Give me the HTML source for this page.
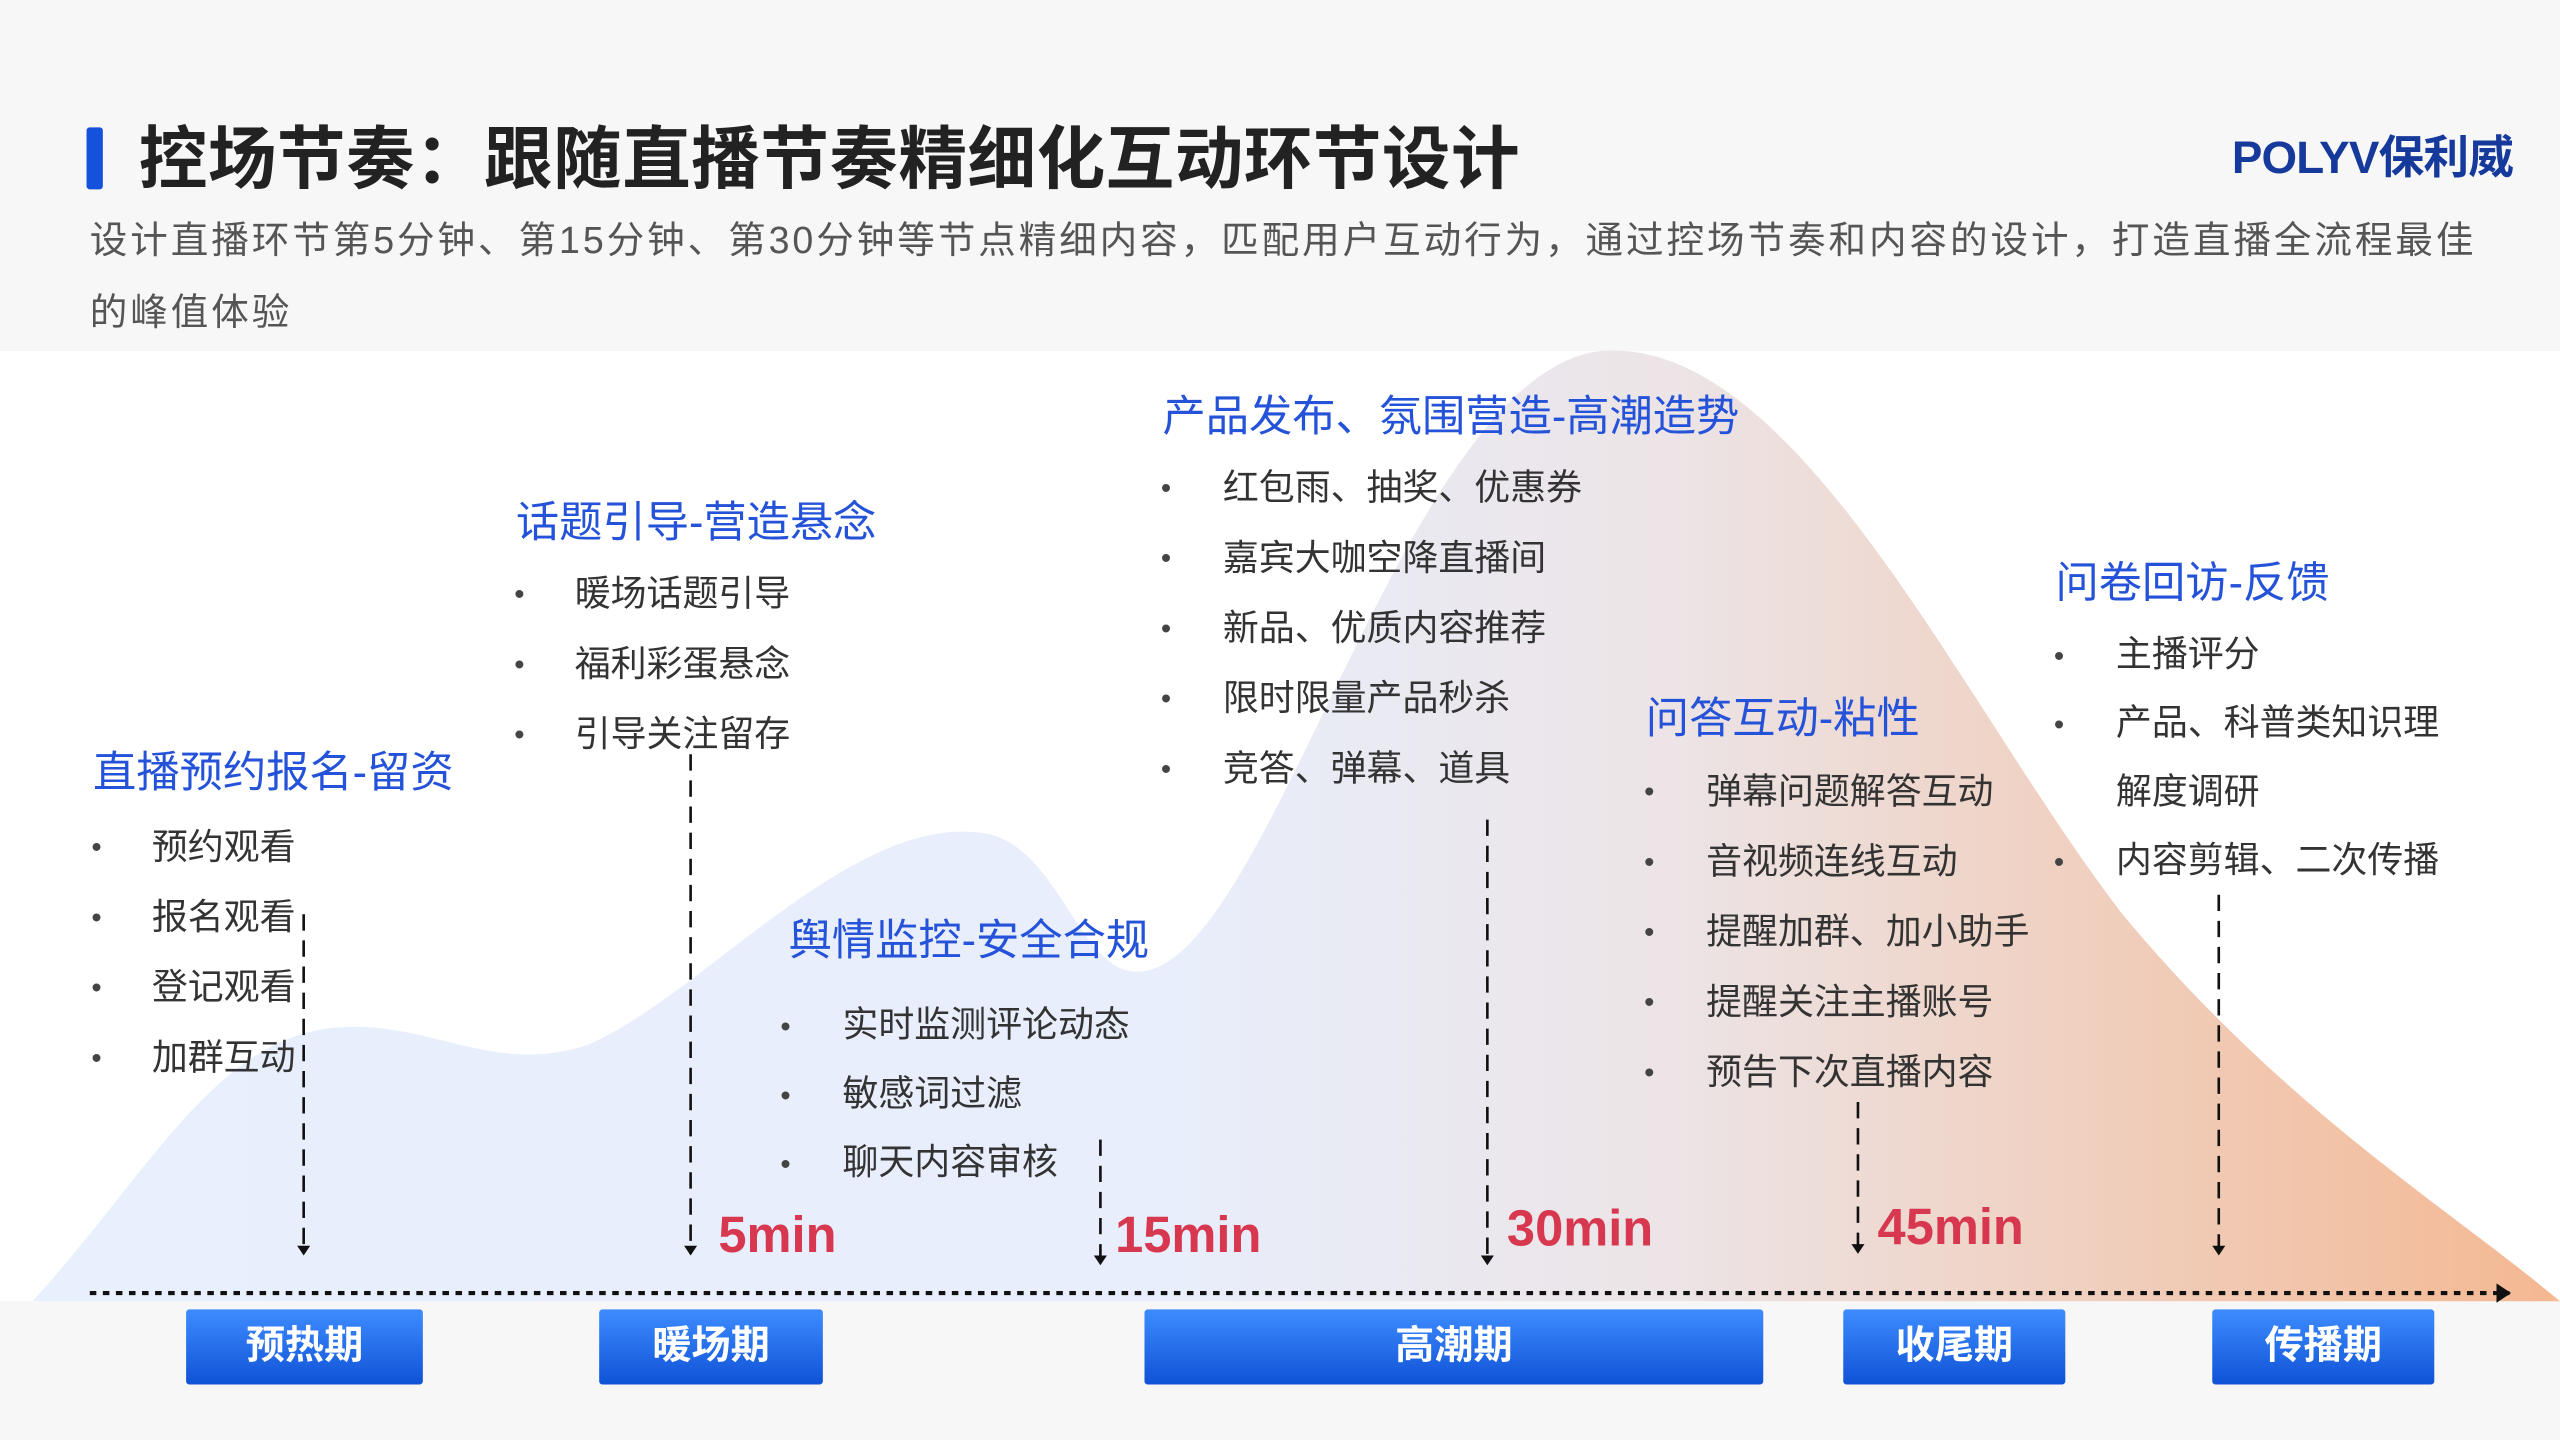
<!DOCTYPE html>
<html><head><meta charset="utf-8"><style>
*{margin:0;padding:0;box-sizing:border-box}
body{width:2560px;height:1440px;overflow:hidden;background:#f7f7f7;font-family:"Liberation Sans","Noto Sans CJK SC",sans-serif}
#s{position:absolute;left:0;top:0;width:1568px;height:882px;transform:scale(1.63265);transform-origin:0 0}
.a{position:absolute;white-space:nowrap}
.h{color:#2452d8;font-size:26.5px;line-height:30px}
.it{color:#333;font-size:22px;line-height:26px}
.b{color:#444;font-size:18px;line-height:26px}
.t{color:#d8384f;font-size:31px;font-weight:bold;line-height:34px}
.btn{position:absolute;top:802px;height:46px;background:linear-gradient(#3e8cff,#0f52d6);color:#fff;font-size:24px;font-weight:bold;text-align:center;line-height:46px;border-radius:2px}
</style></head><body><div id="s">
<div class="a" style="left:0;top:215px;width:1568px;height:582px;background:#fff"></div>
<svg class="a" style="left:0;top:0" width="1568" height="882">
<defs>
<linearGradient id="g" x1="0" x2="1" y1="0" y2="0">
<stop offset="0" stop-color="#e8effd"/><stop offset="0.45" stop-color="#e8eefb"/><stop offset="0.65" stop-color="#ece4e6"/><stop offset="1" stop-color="#f4b892"/></linearGradient>
<marker id="m" markerWidth="6" markerHeight="8" refX="5" refY="4" orient="auto" markerUnits="userSpaceOnUse"><path d="M0,0L6,4L0,8z" fill="#111"/></marker>
<marker id="m2" markerWidth="9" markerHeight="12" refX="8" refY="6" orient="auto" markerUnits="userSpaceOnUse"><path d="M0,0L9,6L0,12z" fill="#111"/></marker>
</defs>
<path d="M20,797 C90,720 130,640 200,630 C260,622 300,660 360,640 C430,610 520,500 600,510 C650,515 660,600 700,595 C780,585 860,230 980,215 C1100,205 1200,430 1300,560 C1400,680 1500,740 1568,797 Z" fill="url(#g)"/>
<line x1="55" y1="792" x2="1537" y2="792" stroke="#111" stroke-width="2.5" stroke-dasharray="4 4" marker-end="url(#m2)"/>
<g stroke="#111" stroke-width="1.6" stroke-dasharray="10 6" marker-end="url(#m)">
<line x1="186" y1="560" x2="186" y2="768"/>
<line x1="423" y1="462" x2="423" y2="768"/>
<line x1="674" y1="698" x2="674" y2="774"/>
<line x1="911" y1="502" x2="911" y2="774"/>
<line x1="1138" y1="675" x2="1138" y2="767"/>
<line x1="1359" y1="548" x2="1359" y2="768"/>
</g>
</svg>
<div class="a" style="left:53px;top:78px;width:10px;height:38px;background:#1452dc;border-radius:2px"></div>
<div class="a" style="left:85px;top:72px;font-size:42px;font-weight:bold;color:#222;line-height:52px;letter-spacing:0.3px">控场节奏：跟随直播节奏精细化互动环节设计</div>
<div class="a" style="left:1367px;top:80px;font-size:28px;font-weight:bold;color:#163a9c;line-height:34px;letter-spacing:-0.5px">POLYV保利威</div>
<div class="a" style="left:55px;top:130px;font-size:23px;color:#555;line-height:34px;letter-spacing:1.8px">设计直播环节第5分钟、第15分钟、第30分钟等节点精细内容，匹配用户互动行为，通过控场节奏和内容的设计，打造直播全流程最佳</div>
<div class="a" style="left:55px;top:174px;font-size:23px;color:#555;line-height:34px;letter-spacing:1.8px">的峰值体验</div>

<div class="a h" style="left:57px;top:458px">直播预约报名-留资</div>
<div class="a b" style="left:56px;top:498px;line-height:43px">•<br>•<br>•<br>•</div>
<div class="a it" style="left:93px;top:497px;line-height:43px">预约观看<br>报名观看<br>登记观看<br>加群互动</div>

<div class="a h" style="left:316px;top:305px">话题引导-营造悬念</div>
<div class="a b" style="left:315px;top:343px;line-height:43px">•<br>•<br>•</div>
<div class="a it" style="left:352px;top:342px;line-height:43px">暖场话题引导<br>福利彩蛋悬念<br>引导关注留存</div>

<div class="a h" style="left:483px;top:561px">舆情监控-安全合规</div>
<div class="a b" style="left:478px;top:608px;line-height:42px">•<br>•<br>•</div>
<div class="a it" style="left:516px;top:607px;line-height:42px">实时监测评论动态<br>敏感词过滤<br>聊天内容审核</div>

<div class="a h" style="left:712px;top:240px">产品发布、氛围营造-高潮造势</div>
<div class="a b" style="left:711px;top:278px;line-height:43px">•<br>•<br>•<br>•<br>•</div>
<div class="a it" style="left:749px;top:277px;line-height:43px">红包雨、抽奖、优惠券<br>嘉宾大咖空降直播间<br>新品、优质内容推荐<br>限时限量产品秒杀<br>竞答、弹幕、道具</div>

<div class="a h" style="left:1008px;top:425px">问答互动-粘性</div>
<div class="a b" style="left:1007px;top:464px;line-height:43px">•<br>•<br>•<br>•<br>•</div>
<div class="a it" style="left:1045px;top:463px;line-height:43px">弹幕问题解答互动<br>音视频连线互动<br>提醒加群、加小助手<br>提醒关注主播账号<br>预告下次直播内容</div>

<div class="a h" style="left:1259px;top:342px">问卷回访-反馈</div>
<div class="a b" style="left:1258px;top:381px;line-height:42px">•<br>•<br><br>•</div>
<div class="a it" style="left:1296px;top:380px;line-height:42px">主播评分<br>产品、科普类知识理<br>解度调研<br>内容剪辑、二次传播</div>

<div class="a t" style="left:440px;top:740px">5min</div>
<div class="a t" style="left:683px;top:740px">15min</div>
<div class="a t" style="left:923px;top:736px">30min</div>
<div class="a t" style="left:1150px;top:735px">45min</div>

<div class="btn" style="left:114px;width:145px">预热期</div>
<div class="btn" style="left:367px;width:137px">暖场期</div>
<div class="btn" style="left:701px;width:379px">高潮期</div>
<div class="btn" style="left:1129px;width:136px">收尾期</div>
<div class="btn" style="left:1355px;width:136px">传播期</div>
</div></body></html>
